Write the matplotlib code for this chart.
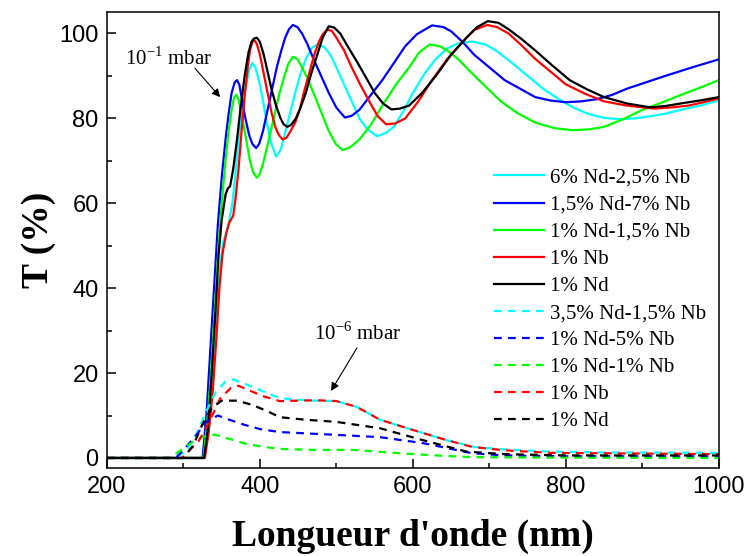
import matplotlib.pyplot as plt
from matplotlib.ticker import MultipleLocator

# ---- 10^-1 mbar (solid) ----
wl_cyan = [200, 326, 332, 338, 343, 348, 352, 356, 360, 364, 368, 372, 377, 382, 386, 390, 394, 400, 405,
           410, 415, 421, 427, 432, 439, 446, 453, 460, 468, 476, 484, 492, 500, 510, 520, 530, 540, 553,
           564, 575, 587, 600, 615, 630, 645, 660, 678, 695, 710, 730, 750, 770, 790, 810, 830, 850, 871,
           890, 910, 930, 950, 975, 1000]
t_cyan = [0, 0, 8, 20, 33, 45, 51, 53, 56, 60, 67, 75, 83, 88, 91.5, 93, 92, 88, 83,
          78, 74, 71, 72.5, 76, 81, 86, 90.5, 94, 96.7, 97.4, 96.8, 95, 92, 88, 84, 80, 77.5, 75.8,
          76.5, 78, 81.5, 86, 90.5, 94, 96.5, 97.7, 98.1, 97.4, 95.8, 93, 90, 87, 84.6, 82.5, 81, 80.1, 79.8,
          80, 80.5, 81.1, 82, 83, 84.2]

wl_blue = [200, 325, 330, 335, 340, 345, 350, 355, 359, 363, 367, 370, 373, 377, 381, 386, 390, 395, 399,
           404, 410, 416, 422, 428, 433, 438, 443, 449, 455, 462, 470, 480, 490, 500, 511, 520, 530, 545,
           560, 575, 590, 605, 625, 640, 650, 665, 680, 700, 720, 740, 760, 780, 800, 820, 840, 860, 880,
           905, 930, 965, 1000]
t_blue = [0, 0, 10, 25, 40, 55, 66, 75, 81, 86, 88.5, 89, 88, 84, 80, 76, 74, 73, 74,
          77, 82, 87, 92, 96, 99, 101, 102, 101.5, 100, 97.5, 94, 90, 86, 82.5, 80.2, 80.6, 82, 85.5,
          89, 93, 97, 99.8, 101.9, 101.5, 100.5, 98, 95, 92, 89, 87, 85, 84.2, 83.8, 84, 84.5, 85.5, 87,
          88.5, 90, 92, 93.9]

wl_green = [200, 326, 331, 336, 341, 346, 351, 355, 359, 363, 366, 369, 372, 377, 382, 387, 391, 396, 400,
            405, 411, 418, 425, 432, 437, 443, 449, 455, 462, 470, 480, 490, 499, 508, 518, 530, 545, 560,
            578, 595, 608, 622, 635, 645, 660, 675, 695, 715, 737, 760, 785, 808, 830, 850, 875, 900, 925,
            950, 975, 1000]
t_green = [0, 0, 8, 20, 35, 50, 62, 70, 77, 82, 84.8, 85.6, 84.5, 80, 75, 70, 67.3, 66, 67,
           70, 74.5, 80, 85.5, 90, 92.8, 94.5, 94, 92, 89.5, 86, 81.5, 77, 74, 72.5, 73.2, 75, 78.5, 83,
           88, 92, 95.5, 97.4, 97, 96, 93.8, 91, 87.5, 84, 81.2, 79, 77.7, 77.2, 77.4, 78, 79.8, 82, 83.7,
           85.5, 87.2, 89]

wl_red = [200, 328, 333, 338, 343, 347, 351, 356, 360, 365, 368, 372, 376, 380, 384, 387, 390, 393, 396,
          400, 405, 410, 415, 420, 425, 430, 435, 440, 446, 452, 458, 465, 471, 477, 482, 488, 494, 500,
          510, 520, 531, 543, 554, 565, 577, 590, 607, 625, 645, 665, 680, 697, 710, 725, 742, 760, 780,
          800, 825, 850, 880, 916, 940, 960, 980, 1000]
t_red = [0, 0, 6, 15, 28, 40, 48, 53, 55.5, 57, 61, 68, 77, 85, 92, 96, 98, 98.4, 97.5,
         95, 90.5, 86, 81.5, 78, 76, 75, 75.5, 77, 79, 82, 86.5, 91, 95, 98, 99.8, 100.9, 100.6, 99,
         96, 92, 88, 84, 80.5, 78.6, 78.8, 80, 84, 89, 94, 98, 100.8, 102, 101.5, 100, 97.2, 94, 91,
         88, 85.8, 84, 83, 82.3, 82.6, 83, 83.8, 84.7]

wl_black = [200, 327, 332, 337, 342, 346, 350, 355, 358, 361, 365, 370, 375, 380, 385, 389, 392, 396, 400,
            405, 410, 415, 421, 427, 431, 436, 441, 447, 453, 460, 467, 475, 482, 490, 497, 505, 516, 528,
            540, 550, 561, 572, 583, 595, 612, 630, 650, 670, 684, 698, 712, 725, 742, 760, 782, 805, 828,
            850, 880, 910, 930, 950, 975, 1000]
t_black = [0, 0, 7, 20, 35, 48, 56, 62, 63.5, 64, 68, 75, 83, 90, 95.5, 98, 98.8, 99, 98,
           95, 91, 87, 83, 80, 78.6, 78, 78.5, 80, 82.5, 86, 90.5, 95, 99, 101.7, 101.4, 100, 96.6, 93,
           89.2, 86, 83.5, 82.1, 82.3, 83, 86, 90, 95, 99, 101.5, 102.9, 102.5, 101, 98.7, 96, 92.5, 89, 86.8,
           85, 83.5, 82.6, 82.9, 83.5, 84.2, 85]

# ---- 10^-6 mbar (dashed) ----
wl_cyan_d = [200, 290, 305, 318, 330, 342, 355, 365, 380, 400, 420, 435, 470, 500, 527, 557, 600, 644,
             680, 720, 780, 850, 1000]
t_cyan_d = [0, 0, 2, 6, 11, 15.5, 18, 18.5, 17.5, 16, 14.5, 13.9, 13.5, 13.4, 12, 9, 6.6, 4.2,
            2.6, 2, 1.5, 1.3, 1.2]

wl_blue_d = [200, 290, 300, 315, 330, 345, 360, 380, 400, 426, 470, 505, 557, 613, 678, 720, 800, 1000]
t_blue_d = [0, 0, 1.9, 5, 8.5, 10, 9, 7.8, 6.8, 6.1, 5.7, 5.4, 4.9, 3.5, 1.1, 0.6, 0.4, 0.4]

wl_green_d = [200, 283, 293, 310, 325, 340, 360, 380, 405, 430, 470, 522, 560, 592, 640, 678, 750, 1000]
t_green_d = [0, 0, 1.4, 3.5, 5, 5.5, 4.5, 3.4, 2.6, 2.1, 1.9, 1.9, 1.4, 1, 0.5, 0.2, 0.1, 0]

wl_red_d = [200, 298, 306, 320, 335, 348, 362, 372, 385, 405, 426, 474, 500, 527, 557, 600, 644, 678,
            720, 780, 1000]
t_red_d = [0, 0, 1.5, 4, 9, 14, 16.5, 17, 16, 14.5, 13.4, 13.6, 13.4, 12, 9, 6.6, 4.2, 2.6,
           1.8, 1.2, 0.9]

wl_black_d = [200, 300, 313, 325, 338, 350, 370, 390, 410, 426, 460, 500, 557, 613, 670, 720, 800, 1000]
t_black_d = [0, 0, 3, 8, 12, 13.5, 13.5, 12.5, 11, 9.6, 9, 8.5, 7, 4.2, 1.5, 0.9, 0.6, 0.6]

solid = [
    (wl_cyan, t_cyan, '#00ffff', '6% Nd-2,5% Nb'),
    (wl_blue, t_blue, '#0000ff', '1,5% Nd-7% Nb'),
    (wl_green, t_green, '#00ff00', '1% Nd-1,5% Nb'),
    (wl_red, t_red, '#ff0000', '1% Nb'),
    (wl_black, t_black, '#000000', '1% Nd'),
]
dashed = [
    (wl_cyan_d, t_cyan_d, '#00ffff', '3,5% Nd-1,5% Nb'),
    (wl_blue_d, t_blue_d, '#0000ff', '1% Nd-5% Nb'),
    (wl_green_d, t_green_d, '#00ff00', '1% Nd-1% Nb'),
    (wl_red_d, t_red_d, '#ff0000', '1% Nb'),
    (wl_black_d, t_black_d, '#000000', '1% Nd'),
]

fig = plt.figure(figsize=(7.48, 5.56), dpi=100)
ax = fig.add_axes([0.143, 0.158, 0.818, 0.820])

for x, y, c, lab in solid:
    ax.plot(x, y, color=c, lw=1.6, label=lab)
for x, y, c, lab in dashed:
    ax.plot(x, y, color=c, lw=1.6, dashes=(3.5, 2.8), label=lab)

ax.set_xlim(200, 1000)
ax.set_ylim(-2.4, 105)
ax.xaxis.set_major_locator(MultipleLocator(200))
ax.xaxis.set_minor_locator(MultipleLocator(100))
ax.yaxis.set_major_locator(MultipleLocator(20))
ax.yaxis.set_minor_locator(MultipleLocator(10))
ax.tick_params(which='both', direction='in', width=1.1)
ax.tick_params(which='major', length=6.5, labelsize=17, pad=6)
ax.tick_params(which='minor', length=3.5)
for lbl in ax.get_xticklabels() + ax.get_yticklabels():
    lbl.set_family('Liberation Sans')
for s in ax.spines.values():
    s.set_linewidth(1.1)

ax.set_xlabel("Longueur d'onde (nm)", family='Liberation Serif', fontweight='bold', fontsize=27, labelpad=15)
ax.set_ylabel("T (%)", family='Liberation Serif', fontweight='bold', fontsize=27, labelpad=2)

# pressure labels with arrows
arrow = dict(arrowstyle='-|>', color='black', lw=0.8, shrinkA=0, shrinkB=0, mutation_scale=12)
ax.text(281, 94, r'10$^{\mathregular{-1}}$ mbar', ha='center', va='center', family='Liberation Serif', fontsize=15)
ax.annotate('', xy=(348, 85), xytext=(315, 91.8), arrowprops=arrow)
ax.text(528, 29.4, r'10$^{\mathregular{-6}}$ mbar', ha='center', va='center', family='Liberation Serif', fontsize=15)
ax.annotate('', xy=(493, 15.8), xytext=(526.8, 25.9), arrowprops=arrow)

ax.legend(loc='upper left', bbox_to_anchor=(0.632, 0.658), frameon=False, borderpad=0, borderaxespad=0,
          handlelength=2.4, handletextpad=0.3, labelspacing=0.36, prop={'family': 'Liberation Serif', 'size': 15})

fig.savefig('out.png', dpi=100)
